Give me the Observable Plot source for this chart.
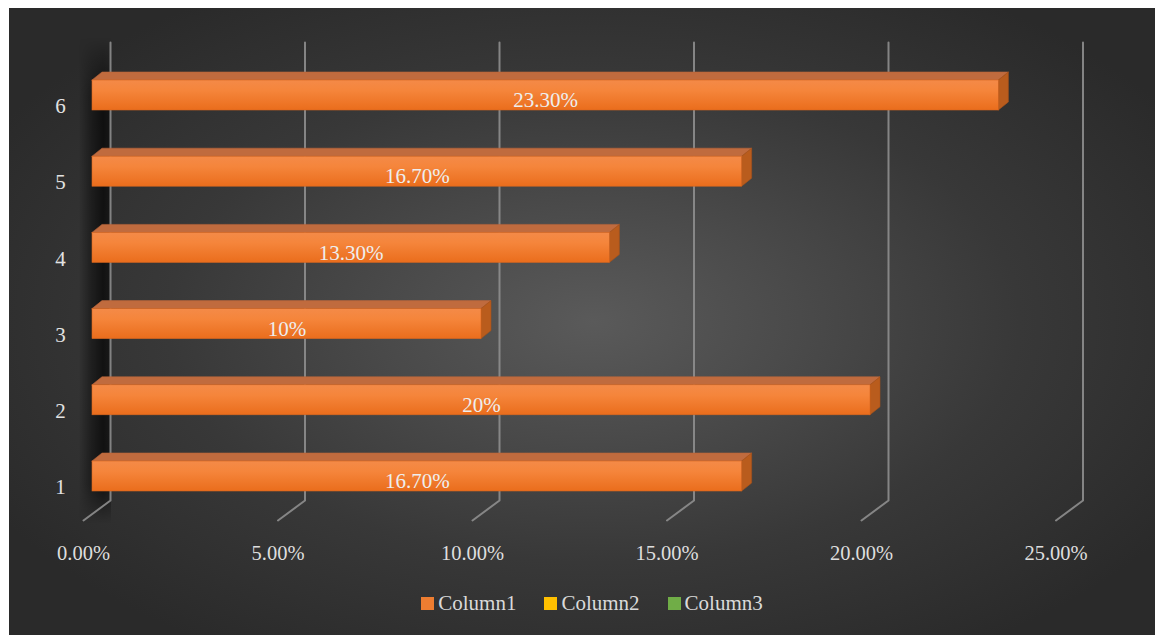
<!DOCTYPE html>
<html>
<head>
<meta charset="utf-8">
<script src="https://cdn.jsdelivr.net/npm/d3@7"></script>
<script src="https://cdn.jsdelivr.net/npm/@observablehq/plot@0.6"></script>
<style>
  html, body { margin: 0; padding: 0; background: #ffffff; }
  #wrap {
    position: absolute; left: 9px; top: 8px; width: 1146px; height: 627px; overflow: hidden;
    background: radial-gradient(ellipse 60% 62% at 51% 50%, #5a5a5a 0%, #4a4a4a 30%, #383838 62%, #2a2a2a 100%);
    font-family: "Liberation Serif", "Times New Roman", serif;
  }
  #shadow {
    position: absolute; left: 70px; top: 30px; width: 32px; height: 485px;
    background: linear-gradient(to right, rgba(0,0,0,0) 0%, rgba(0,0,0,0.4) 40%, rgba(0,0,0,0.65) 75%, rgba(0,0,0,0.5) 100%);
    -webkit-mask-image: linear-gradient(to bottom, rgba(0,0,0,0) 0%, #000 12%, #000 92%, rgba(0,0,0,0) 100%);
    mask-image: linear-gradient(to bottom, rgba(0,0,0,0) 0%, #000 12%, #000 92%, rgba(0,0,0,0) 100%);
  }
  #chart { position: absolute; left: 0; top: 0; }
  #legend {
    position: absolute; left: 0; width: 1166px; top: 583px; display: flex; justify-content: center;
    color: #dadada; font-size: 21px; gap: 28px;
  }
  .item { display: flex; align-items: center; gap: 4px; }
  .sw { width: 13px; height: 13px; display: inline-block; }
</style>
</head>
<body>
<svg style="position:absolute;width:0;height:0" aria-hidden="true">
  <defs>
    <linearGradient id="barGrad" x1="0" y1="0" x2="0" y2="1">
      <stop offset="0%" stop-color="#f48a48"/>
      <stop offset="35%" stop-color="#f5853b"/>
      <stop offset="100%" stop-color="#ea6d1c"/>
    </linearGradient>
  </defs>
</svg>
<div id="wrap">
  <div id="shadow"></div>
  <div id="chart"></div>
  <div id="legend"></div>
</div>
<script>
// ---- data ----
const categories = ["1", "2", "3", "4", "5", "6"];
const values = [16.7, 20, 10, 13.3, 16.7, 23.3];
const valueLabels = ["16.70%", "20%", "10%", "13.30%", "16.70%", "23.30%"];
const xTicks = [0, 5, 10, 15, 20, 25];
const xTickLabels = ["0.00%", "5.00%", "10.00%", "15.00%", "20.00%", "25.00%"];
const legendNames = ["Column1", "Column2", "Column3"];
const legendColors = ["#ed7d31", "#ffc000", "#70ad47"];

// ---- layout constants (pixels) ----
const W = 1146, H = 580;
const xR = [83, 1055.5];           // bar-plane x range for domain [0,25]
const yR = [468, 87];              // pixel centres of categories 1..6
const pxX = (xR[1] - xR[0]) / 25;
const pxY = (yR[0] - yR[1]) / 5;
const ux = p => p / pxX;           // px -> x units
const uy = p => p / pxY;           // px -> y units
const yAt = p => 1 + (yR[0] - p) / pxY; // svg pixel y -> y data

const halfH = uy(15);
const depthX = ux(10), depthY = uy(8);
const backOff = ux(18), frontOff = ux(9);

const bars = categories.map((c, i) => ({cat: c, pos: i + 1, value: values[i], label: valueLabels[i]}));

const gridPts = xTicks.flatMap(t => [
  {t, x: t + backOff, y: yAt(34)},
  {t, x: t + backOff, y: yAt(492)},
  {t, x: t - frontOff, y: yAt(512)}
]);

const topPts = bars.flatMap(b => [
  {cat: b.cat, y: b.pos + halfH, x1: 0, x2: b.value},
  {cat: b.cat, y: b.pos + halfH + depthY, x1: depthX, x2: b.value + depthX}
]);
const sidePts = bars.flatMap(b => [
  {cat: b.cat, x: b.value, y1: b.pos - halfH, y2: b.pos + halfH},
  {cat: b.cat, x: b.value + depthX, y1: b.pos - halfH + depthY, y2: b.pos + halfH + depthY}
]);

const font = "Liberation Serif, Times New Roman, serif";

const chart = Plot.plot({
  width: W, height: H,
  marginLeft: 0, marginRight: 0, marginTop: 0, marginBottom: 0,
  style: {background: "transparent", overflow: "visible", fontFamily: font},
  x: {type: "linear", domain: [0, 25], range: xR, axis: null},
  y: {type: "linear", domain: [1, 6], range: yR, axis: null},
  marks: [
    Plot.line(gridPts, {x: "x", y: "y", z: "t", stroke: "#8e8e8e", strokeWidth: 2, strokeOpacity: 0.9}),
    Plot.areaX(topPts, {y: "y", x1: "x1", x2: "x2", z: "cat", fill: "#c06b3e", stroke: "#b8643a", strokeWidth: 0.6}),
    Plot.areaY(sidePts, {x: "x", y1: "y1", y2: "y2", z: "cat", fill: "#b95c1d", stroke: "#a9521a", strokeWidth: 0.6}),
    Plot.rect(bars, {x1: () => 0, x2: "value", y1: d => d.pos - halfH, y2: d => d.pos + halfH,
      fill: "url(#barGrad)", stroke: "#d8661e", strokeWidth: 0.6}),
    Plot.text(bars, {x: d => d.value / 2, y: "pos", dy: 5, text: "label", fill: "#eeeeee",
      fontSize: 21, fontFamily: font}),
    Plot.text(bars, {x: () => ux(51 - xR[0]), y: "pos", dy: 11, text: "cat", fill: "#e2e2e2",
      fontSize: 21, fontFamily: font}),
    Plot.text(xTicks, {x: d => d - frontOff, y: () => yAt(545), text: (d, i) => xTickLabels[i],
      fill: "#dedede", fontSize: 20.5, fontFamily: font})
  ]
});
document.getElementById("chart").appendChild(chart);

const legend = document.getElementById("legend");
legendNames.forEach((n, i) => {
  const it = document.createElement("div");
  it.className = "item";
  const sw = document.createElement("span");
  sw.className = "sw";
  sw.style.background = legendColors[i];
  const tx = document.createElement("span");
  tx.textContent = n;
  it.appendChild(sw); it.appendChild(tx);
  legend.appendChild(it);
});
</script>
</body>
</html>
